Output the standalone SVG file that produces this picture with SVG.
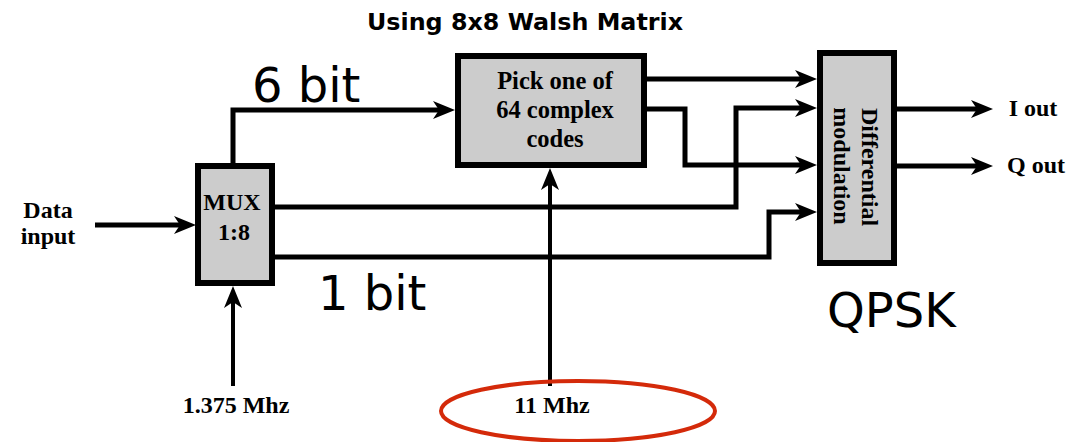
<svg xmlns="http://www.w3.org/2000/svg" width="1081" height="442" viewBox="0 0 1081 442">
<style>
.box{fill:#cccccc;stroke:#000;stroke-width:6}
.ser{font-family:"Liberation Serif","Times New Roman",serif;font-weight:bold;font-size:24px;fill:#000;text-anchor:middle}
.big{font-family:"DejaVu Sans",Verdana,sans-serif;font-size:48px;fill:#000}
.ttl{font-family:"DejaVu Sans",Verdana,sans-serif;font-weight:bold;font-size:23.8px;fill:#000;text-anchor:middle}
.w{fill:none;stroke:#000;stroke-width:5}
.t{fill:none;stroke:#000;stroke-width:4}
</style>
<defs>
<marker id="ah" viewBox="-12 -9 22 18" refX="0" refY="0" markerWidth="22" markerHeight="18" markerUnits="userSpaceOnUse" orient="auto">
<path d="M-12,-9 L10,0 L-12,9 L-6,0 Z" fill="#000"/>
</marker>
</defs>
<rect width="1081" height="442" fill="#fff"/>
<text class="ttl" x="525" y="30">Using 8x8 Walsh Matrix</text>
<g id="connectors">
<polyline class="w" points="95,225 186,225" marker-end="url(#ah)"/>
<polyline class="w" points="233,166 233,110 445,110" marker-end="url(#ah)"/>
<polyline class="w" points="644,79 807,79" marker-end="url(#ah)"/>
<polyline class="w" points="644,109 685,109 685,165 807,165" marker-end="url(#ah)"/>
<polyline class="w" points="272,207 736,207 736,108 807,108" marker-end="url(#ah)"/>
<polyline class="w" points="272,257 769,257 769,212 807,212" marker-end="url(#ah)"/>
<polyline class="w" points="894,109 983,109" marker-end="url(#ah)"/>
<polyline class="w" points="894,166 983,166" marker-end="url(#ah)"/>
<polyline class="t" points="233,386 233,296" marker-end="url(#ah)"/>
<polyline class="t" points="550,386 550,178" marker-end="url(#ah)"/>
</g>
<g id="mux">
<rect class="box" x="198" y="166" width="74" height="117"/>
<text class="ser" x="232" y="210">MUX</text>
<text class="ser" x="234" y="240">1:8</text>
</g>
<g id="pick">
<rect class="box" x="458" y="56" width="186" height="109"/>
<text class="ser" x="555" y="89" style="font-size:24.5px">Pick one of</text>
<text class="ser" x="555" y="118" style="font-size:24.5px">64 complex</text>
<text class="ser" x="555" y="147" style="font-size:24.5px">codes</text>
</g>
<g id="diff">
<rect class="box" x="820" y="53" width="74" height="210"/>
<text class="ser" transform="translate(862,167) rotate(90)">Differential</text>
<text class="ser" transform="translate(834,166) rotate(90)">modulation</text>
</g>
<g id="data-input">
<text class="ser" x="48" y="218">Data</text>
<text class="ser" x="48" y="244">input</text>
</g>
<g id="outputs">
<text class="ser" x="1033" y="116">I out</text>
<text class="ser" x="1036" y="173">Q out</text>
</g>
<g id="clocks">
<text class="ser" x="236" y="413">1.375 Mhz</text>
<text class="ser" x="552" y="413">11 Mhz</text>
<ellipse cx="578" cy="411" rx="137" ry="30" fill="none" stroke="#d42a0a" stroke-width="4"/>
</g>
<g id="labels">
<text class="big" x="252" y="102">6 bit</text>
<text class="big" x="318" y="310">1 bit</text>
<text class="big" x="827" y="327">QPSK</text>
</g>
</svg>
